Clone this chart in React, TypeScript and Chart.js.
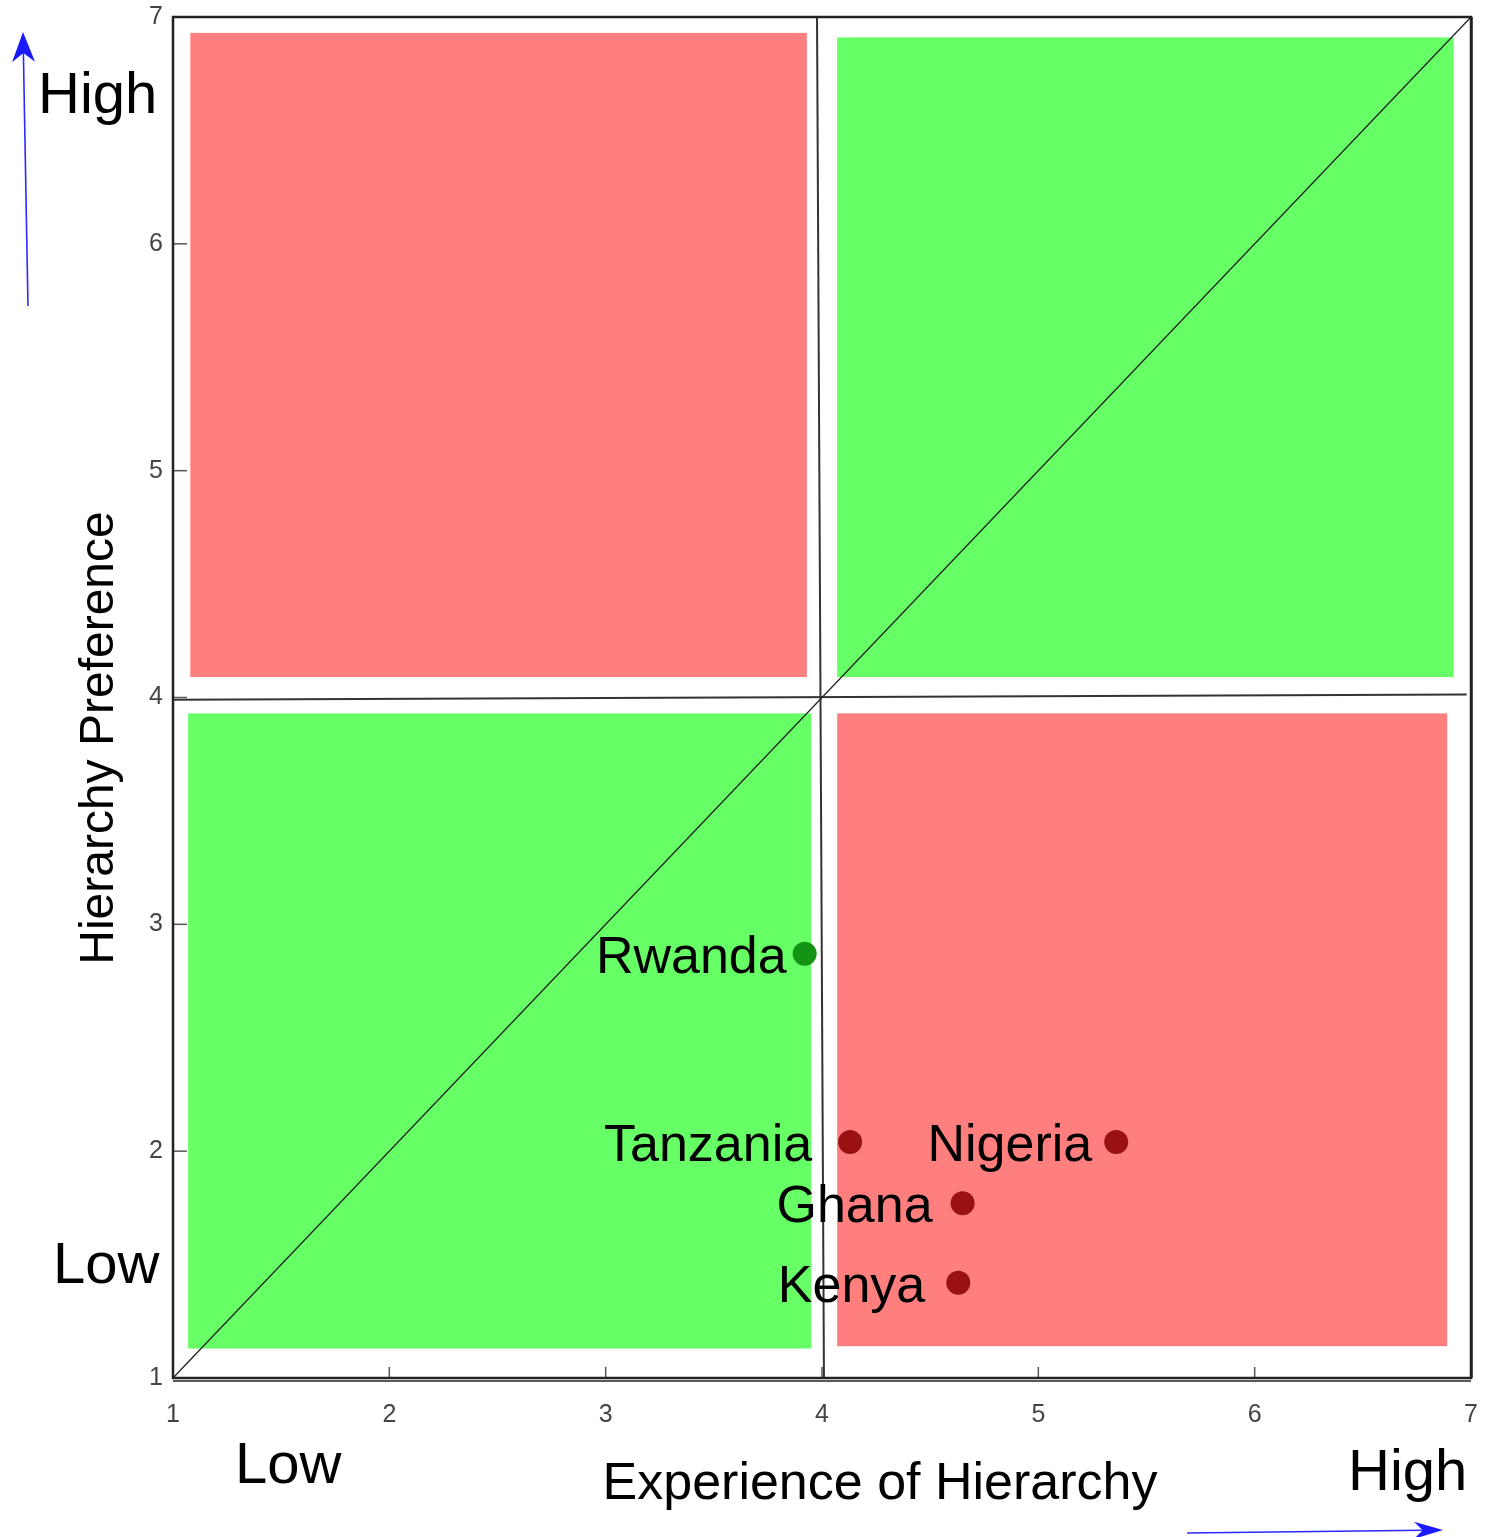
import React, { useEffect, useRef } from "react";
import { Chart, registerables } from "chart.js";

Chart.register(...registerables);

const FONT = '"Liberation Sans", Arial, Helvetica, sans-serif';

// Country points
const countries = ["Rwanda", "Tanzania", "Nigeria", "Ghana", "Kenya"];
const experience = [3.92, 4.13, 5.36, 4.65, 4.63];
const preference = [2.87, 2.04, 2.04, 1.77, 1.42];
const pointColors = ["#149414", "#9a1111", "#9a1111", "#9a1111", "#9a1111"];
const labelGaps = [18, 38, 24, 30, 33];

// Quadrant boxes (data units)
const quadX0 = [1.08, 4.07, 1.07, 4.07];
const quadX1 = [3.93, 6.92, 3.95, 6.89];
const quadY0 = [4.09, 4.09, 1.13, 1.14];
const quadY1 = [6.93, 6.91, 3.93, 3.93];
const quadColors = ["#ff7e7e", "#66ff66", "#66ff66", "#ff7e7e"];

// Axis ticks
const tickValues = [1, 2, 3, 4, 5, 6, 7];
const innerTicks = [2, 3, 4, 5, 6];

// Reference lines
const verticalDivider = [
  { x: 3.977, y: 7 },
  { x: 4.009, y: 1 },
];
const horizontalDivider = [
  { x: 1, y: 3.99 },
  { x: 6.98, y: 4.013 },
];
const diagonal = [
  { x: 1, y: 1 },
  { x: 7, y: 7 },
];

const xTitle = "Experience of Hierarchy";
const yTitle = "Hierarchy Preference";

function drawArrow(
  ctx: CanvasRenderingContext2D,
  x0: number,
  y0: number,
  x1: number,
  y1: number,
  headLen: number,
  headW: number
) {
  const ang = Math.atan2(y1 - y0, x1 - x0);
  const bx = x1 - Math.cos(ang) * headLen;
  const by = y1 - Math.sin(ang) * headLen;
  const notch = headLen * 0.3;
  ctx.save();
  ctx.strokeStyle = "#2a2aff";
  ctx.fillStyle = "#1a1aff";
  ctx.lineWidth = 1.6;
  ctx.beginPath();
  ctx.moveTo(x0, y0);
  ctx.lineTo(bx + Math.cos(ang) * notch, by + Math.sin(ang) * notch);
  ctx.stroke();
  const nx = -Math.sin(ang);
  const ny = Math.cos(ang);
  ctx.beginPath();
  ctx.moveTo(x1, y1);
  ctx.lineTo(bx + nx * headW, by + ny * headW);
  ctx.lineTo(bx + Math.cos(ang) * notch, by + Math.sin(ang) * notch);
  ctx.lineTo(bx - nx * headW, by - ny * headW);
  ctx.closePath();
  ctx.fill();
  ctx.restore();
}

const quadrantPlugin = {
  id: "quadrants",
  beforeDatasetsDraw(chart: any) {
    const { ctx, scales } = chart;
    const xs = scales.x;
    const ys = scales.y;
    ctx.save();
    for (let i = 0; i < quadColors.length; i++) {
      const l = xs.getPixelForValue(quadX0[i]);
      const r = xs.getPixelForValue(quadX1[i]);
      const t = ys.getPixelForValue(quadY1[i]);
      const b = ys.getPixelForValue(quadY0[i]);
      ctx.fillStyle = quadColors[i];
      ctx.fillRect(l, t, r - l, b - t);
    }
    ctx.restore();
  },
  afterDatasetsDraw(chart: any) {
    const { ctx, scales, chartArea } = chart;
    const xs = scales.x;
    const ys = scales.y;
    ctx.save();
    // inner tick marks
    ctx.strokeStyle = "#555";
    ctx.lineWidth = 1.5;
    for (const v of innerTicks) {
      const px = xs.getPixelForValue(v);
      ctx.beginPath();
      ctx.moveTo(px, chartArea.bottom);
      ctx.lineTo(px, chartArea.bottom - 11);
      ctx.stroke();
      const py = ys.getPixelForValue(v);
      ctx.beginPath();
      ctx.moveTo(chartArea.left, py);
      ctx.lineTo(chartArea.left + 14, py);
      ctx.stroke();
    }
    // frame
    ctx.strokeStyle = "#222";
    ctx.lineWidth = 2.5;
    ctx.strokeRect(chartArea.left, chartArea.top, chartArea.right - chartArea.left, chartArea.bottom - chartArea.top);
    ctx.lineWidth = 1.5;
    ctx.beginPath();
    ctx.moveTo(chartArea.left, chartArea.bottom + 3);
    ctx.lineTo(chartArea.right, chartArea.bottom + 3);
    ctx.stroke();
    ctx.beginPath();
    ctx.moveTo(chartArea.right + 1, chartArea.top);
    ctx.lineTo(chartArea.right + 1, chartArea.bottom);
    ctx.stroke();

    // point labels
    ctx.fillStyle = "#000";
    ctx.font = `52px ${FONT}`;
    ctx.textAlign = "right";
    ctx.textBaseline = "alphabetic";
    for (let i = 0; i < countries.length; i++) {
      const px = xs.getPixelForValue(experience[i]);
      const py = ys.getPixelForValue(preference[i]);
      ctx.fillText(countries[i], px - labelGaps[i], py + 19);
    }
    ctx.restore();
  },
  afterDraw(chart: any) {
    const { ctx } = chart;
    ctx.save();
    ctx.fillStyle = "#000";
    ctx.textBaseline = "alphabetic";
    // axis titles
    ctx.font = `52px ${FONT}`;
    ctx.textAlign = "center";
    ctx.fillText(xTitle, 880, 1499);
    ctx.save();
    ctx.translate(113, 738);
    ctx.rotate(-Math.PI / 2);
    ctx.font = `48px ${FONT}`;
    ctx.fillText(yTitle, 0, 0);
    ctx.restore();
    // High / Low
    ctx.font = `58px ${FONT}`;
    ctx.textAlign = "left";
    ctx.fillText("High", 38, 113);
    ctx.fillText("Low", 53, 1283);
    ctx.fillText("Low", 235, 1483);
    ctx.fillText("High", 1348, 1490);
    // arrows
    drawArrow(ctx, 28, 306, 23, 32, 30, 11.5);
    drawArrow(ctx, 1187, 1533, 1443, 1530, 29, 8.5);
    ctx.restore();
  },
};

export default function App() {
  const canvasRef = useRef<HTMLCanvasElement | null>(null);

  useEffect(() => {
    document.body.style.margin = "0";
    const canvas = canvasRef.current;
    if (!canvas) return;
    const lineStyle = {
      showLine: true,
      pointRadius: 0,
      pointHoverRadius: 0,
      fill: false,
    };
    const chart = new Chart(canvas, {
      type: "scatter",
      data: {
        datasets: [
          {
            label: "Countries",
            data: countries.map((_, i) => ({ x: experience[i], y: preference[i] })),
            backgroundColor: pointColors,
            borderColor: pointColors,
            pointRadius: 12,
            pointHoverRadius: 12,
            borderWidth: 0,
          },
          { label: "diag", data: diagonal, borderColor: "#222", borderWidth: 1.3, ...lineStyle },
          { label: "vdiv", data: verticalDivider, borderColor: "#333", borderWidth: 2, ...lineStyle },
          { label: "hdiv", data: horizontalDivider, borderColor: "#333", borderWidth: 2, ...lineStyle },
        ],
      },
      options: {
        responsive: false,
        animation: false,
        devicePixelRatio: 1,
        layout: { padding: { top: 17, right: 18, left: 0, bottom: 0 } },
        plugins: {
          legend: { display: false },
          tooltip: { enabled: false },
          title: { display: false },
        },
        scales: {
          x: {
            type: "linear",
            min: 1,
            max: 7,
            afterBuildTicks: (s: any) => {
              s.ticks = tickValues.map((v) => ({ value: v }));
            },
            afterFit: (s: any) => {
              s.height = 159;
              s.paddingLeft = 0;
              s.paddingRight = 0;
              s.paddingTop = 0;
              s.paddingBottom = 0;
            },
            grid: { display: false, drawTicks: false },
            border: { display: false },
            ticks: {
              color: "#444",
              font: { size: 25, family: FONT },
              padding: 22,
              maxRotation: 0,
              autoSkip: false,
            },
          },
          y: {
            type: "linear",
            min: 1,
            max: 7,
            afterBuildTicks: (s: any) => {
              s.ticks = tickValues.map((v) => ({ value: v }));
            },
            afterFit: (s: any) => {
              s.width = 173;
              s.paddingLeft = 0;
              s.paddingRight = 0;
              s.paddingTop = 0;
              s.paddingBottom = 0;
            },
            grid: { display: false, drawTicks: false },
            border: { display: false },
            ticks: {
              color: "#444",
              font: { size: 25, family: FONT },
              padding: 10,
              autoSkip: false,
            },
          },
        },
      },
      plugins: [quadrantPlugin],
    } as any);
    return () => chart.destroy();
  }, []);

  return (
    <div style={{ width: 1489, height: 1537, position: "relative" }}>
      <canvas ref={canvasRef} width={1489} height={1537} style={{ display: "block" }} />
    </div>
  );
}
